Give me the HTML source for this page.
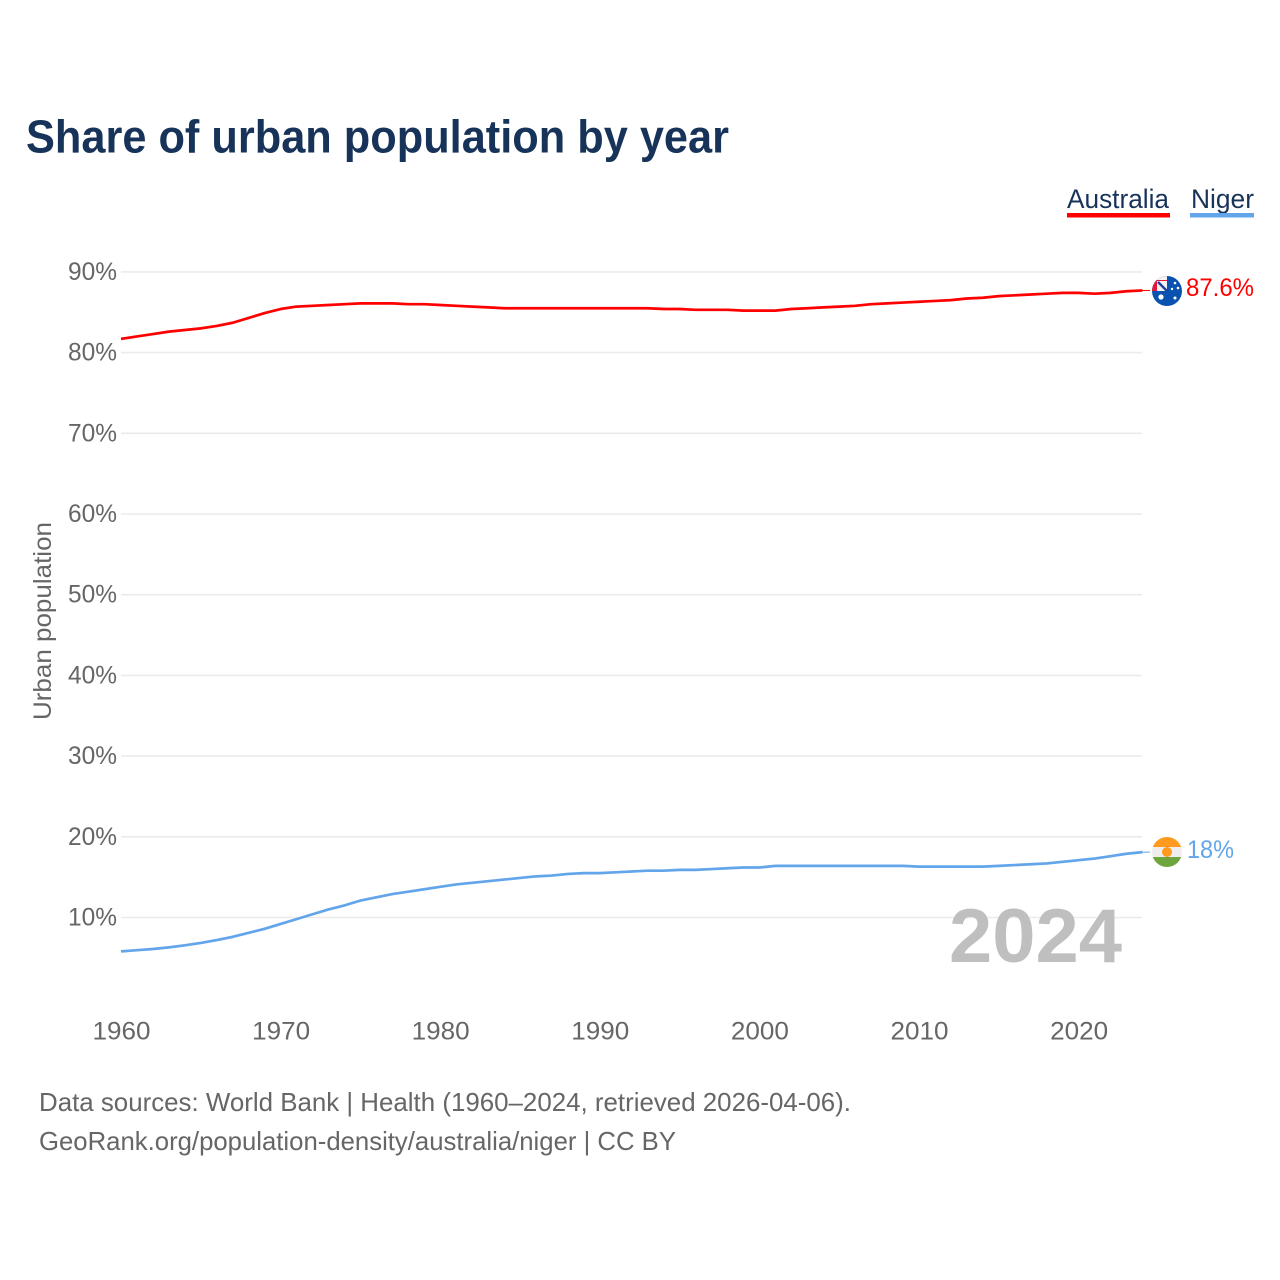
<!DOCTYPE html>
<html lang="en">
<head>
<meta charset="utf-8">
<title>Share of urban population by year</title>
<style>
html,body{margin:0;padding:0;background:#fff;width:1280px;height:1280px;overflow:hidden}
svg{display:block}
text{font-family:"Liberation Sans",sans-serif}
</style>
</head>
<body>
<svg id="chart" width="1280" height="1280" viewBox="0 0 1280 1280" xmlns="http://www.w3.org/2000/svg">
  <defs>
    <clipPath id="clip-au"><circle cx="1167" cy="291" r="15"/></clipPath>
    <clipPath id="clip-ne"><circle cx="1167" cy="852" r="15"/></clipPath>
  </defs>
  <rect width="1280" height="1280" fill="#fff"/>
  <text x="26" y="152.5" font-size="46" font-weight="700" fill="#17335a" textLength="703" lengthAdjust="spacingAndGlyphs">Share of urban population by year</text>

  <g>
    <g>
      <text x="1067" y="208" font-size="27" fill="#17335a" textLength="102" lengthAdjust="spacingAndGlyphs">Australia</text>
      <rect x="1067" y="213" width="103" height="4.5" fill="#ff0000"/>
    </g>
    <g>
      <text x="1191" y="208" font-size="27" fill="#17335a" textLength="63" lengthAdjust="spacingAndGlyphs">Niger</text>
      <rect x="1190" y="213" width="64" height="4.5" fill="#62a5ea"/>
    </g>
  </g>

  <text transform="translate(51,621) rotate(-90)" text-anchor="middle" font-size="25" fill="#666" textLength="198" lengthAdjust="spacingAndGlyphs">Urban population</text>

  <g id="grid"></g>
  <g id="yticks"></g>
  <g id="xticks"></g>

  <text x="1122" y="962" text-anchor="end" font-size="76" font-weight="700" fill="#bfbfbf" textLength="173" lengthAdjust="spacingAndGlyphs">2024</text>

  <g id="series"></g>

  <g clip-path="url(#clip-au)">
    <rect x="1152" y="276" width="30" height="30" fill="#0a52b0"/>
    <rect x="1152" y="276" width="15" height="15" fill="#e4173e"/>
    <rect x="1156" y="276" width="11" height="4" fill="#f4f4f4"/>
    <rect x="1157" y="281" width="10" height="10" fill="#f2f2f2"/>
    <path d="M1158 282 L1167 291" stroke="#1f3f9a" stroke-width="2.4"/>
    <circle cx="1161" cy="297" r="2.6" fill="#fff"/>
    <circle cx="1175" cy="283" r="1.3" fill="#fff"/>
    <circle cx="1178" cy="288" r="1.3" fill="#fff"/>
    <circle cx="1172" cy="289" r="1.2" fill="#fff"/>
    <circle cx="1175" cy="298" r="1.5" fill="#fff"/>
  </g>
  <text id="label-au" x="1186" y="296" font-size="25" fill="#ff0000" textLength="68" lengthAdjust="spacingAndGlyphs"></text>

  <g clip-path="url(#clip-ne)">
    <rect x="1152" y="837" width="30" height="10" fill="#ff9a1f"/>
    <rect x="1152" y="847" width="30" height="10" fill="#eeeeee"/>
    <rect x="1152" y="857" width="30" height="10" fill="#6fa53f"/>
    <circle cx="1167" cy="852" r="5" fill="#ff9a1f"/>
  </g>
  <text id="label-ne" x="1187" y="858" font-size="25" fill="#62a5ea" textLength="47" lengthAdjust="spacingAndGlyphs"></text>

  <g>
    <text x="39" y="1111" font-size="26" fill="#666" textLength="812" lengthAdjust="spacingAndGlyphs">Data sources: World Bank | Health (1960–2024, retrieved 2026-04-06).</text>
    <text x="39" y="1150" font-size="26" fill="#666" textLength="637" lengthAdjust="spacingAndGlyphs">GeoRank.org/population-density/australia/niger | CC BY</text>
  </g>
</svg>
<script>
const startYear = 1960;
const yTickValues = [10, 20, 30, 40, 50, 60, 70, 80, 90];
const xTickYears = [1960, 1970, 1980, 1990, 2000, 2010, 2020];
const australiaValues = [81.7,82.0,82.3,82.6,82.8,83.0,83.3,83.7,84.3,84.9,85.4,85.7,85.8,85.9,86.0,86.1,86.1,86.1,86.0,86.0,85.9,85.8,85.7,85.6,85.5,85.5,85.5,85.5,85.5,85.5,85.5,85.5,85.5,85.5,85.4,85.4,85.3,85.3,85.3,85.2,85.2,85.2,85.4,85.5,85.6,85.7,85.8,86.0,86.1,86.2,86.3,86.4,86.5,86.7,86.8,87.0,87.1,87.2,87.3,87.4,87.4,87.3,87.4,87.6,87.7];
const nigerValues = [5.8,5.95,6.1,6.3,6.55,6.85,7.2,7.6,8.1,8.6,9.2,9.8,10.4,11.0,11.5,12.1,12.5,12.9,13.2,13.5,13.8,14.1,14.3,14.5,14.7,14.9,15.1,15.2,15.4,15.5,15.5,15.6,15.7,15.8,15.8,15.9,15.9,16.0,16.1,16.2,16.2,16.4,16.4,16.4,16.4,16.4,16.4,16.4,16.4,16.4,16.3,16.3,16.3,16.3,16.3,16.4,16.5,16.6,16.7,16.9,17.1,17.3,17.6,17.9,18.1];
const australiaLabel = "87.6%";
const nigerLabel = "18%";

const NS = "http://www.w3.org/2000/svg";
function xScale(year) { return 121 + (year - 1960) * 15.96; }
function yScale(v) { return 998.2 - v * 8.07; }

function make(tag, attrs, parent) {
  const el = document.createElementNS(NS, tag);
  for (const k in attrs) el.setAttribute(k, attrs[k]);
  parent.appendChild(el);
  return el;
}

const gridG = document.getElementById("grid");
const yG = document.getElementById("yticks");
const xG = document.getElementById("xticks");
const seriesG = document.getElementById("series");

yTickValues.forEach(function (v) {
  const line = make("line", {x1: 121, x2: 1142, y1: yScale(v), y2: yScale(v), stroke: "#ebebeb", "stroke-width": 1.6}, gridG);
  
  
  const t = make("text", {x: 117, y: yScale(v) + 8, "text-anchor": "end", "font-size": 25, fill: "#666", textLength: 49, lengthAdjust: "spacingAndGlyphs"}, yG);
  t.textContent = v + "%";
  
  
});

xTickYears.forEach(function (yr) {
  const t = make("text", {x: xScale(yr) + 0.5, y: 1039.5, "text-anchor": "middle", "font-size": 25, fill: "#666", textLength: 58, lengthAdjust: "spacingAndGlyphs"}, xG);
  t.textContent = yr;
  
  
});

function linePath(values) {
  return values.map(function (v, i) {
    return (i ? "L" : "M") + xScale(startYear + i).toFixed(2) + " " + yScale(v).toFixed(2);
  }).join(" ");
}

const auLine = make("path", {d: linePath(australiaValues), fill: "none", stroke: "#ff0000", "stroke-width": 2.7, "stroke-linejoin": "round"}, seriesG);



const neLine = make("path", {d: linePath(nigerValues), fill: "none", stroke: "#62a5ea", "stroke-width": 2.7, "stroke-linejoin": "round"}, seriesG);



const lastYear = startYear + australiaValues.length - 1;
const auLead = make("line", {x1: xScale(lastYear), x2: 1150, y1: yScale(australiaValues[australiaValues.length - 1]), y2: yScale(australiaValues[australiaValues.length - 1]), stroke: "#ff0000", "stroke-width": 1}, seriesG);



const neLead = make("line", {x1: xScale(lastYear), x2: 1150, y1: yScale(nigerValues[nigerValues.length - 1]), y2: yScale(nigerValues[nigerValues.length - 1]), stroke: "#62a5ea", "stroke-width": 1}, seriesG);



document.getElementById("label-au").textContent = australiaLabel;
document.getElementById("label-ne").textContent = nigerLabel;
</script>
</body>
</html>
